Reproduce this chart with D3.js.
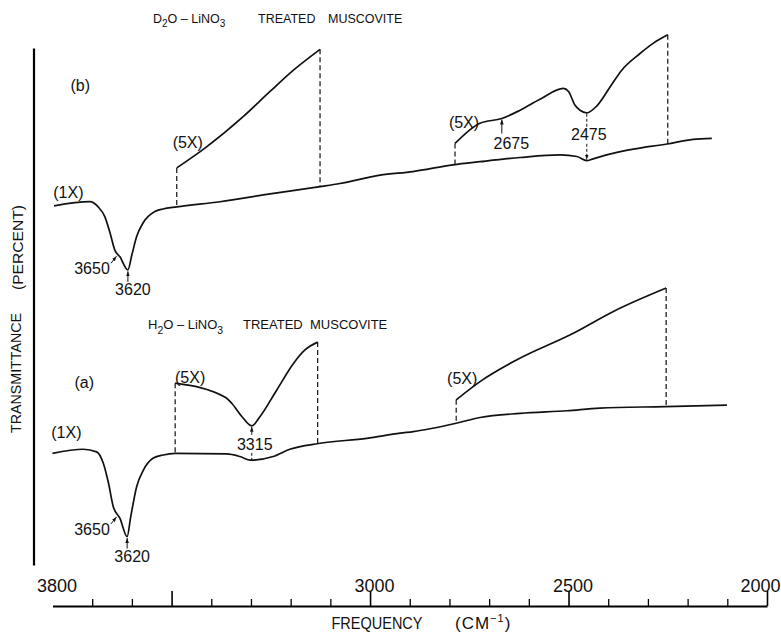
<!DOCTYPE html>
<html><head><meta charset="utf-8">
<script src="https://cdn.jsdelivr.net/npm/d3@7"></script>
<style>
body{margin:0;background:#fff}
svg{display:block}
text{font-family:"Liberation Sans",Arial,sans-serif;fill:#111}
</style>
</head><body>
<svg id="c" width="781" height="634"></svg>
<script>
// ---------------- data ----------------
// frequency (cm^-1), transmittance (arbitrary percent scale)
const traceB1x = [[3796,68.1],[3706,68.9],[3685,67.9],[3668,66.0],[3655,62.9],[3643,59.6],[3630,58.3],[3610,55.8],[3600,58.7],[3588,62.2],[3572,64.8],[3542,67.0],[3522,67.5],[3487,67.9],[3378,68.9],[3252,70.4],[3126,71.8],[3076,72.4],[2975,74.0],[2892,74.7],[2791,76.0],[2723,76.6],[2622,77.4],[2521,77.9],[2479,77.6],[2454,76.8],[2440,77.1],[2404,77.9],[2337,79.0],[2252,80.0],[2186,80.9],[2139,81.1]];
const traceB5xLeft = [[3487,75.4],[3416,79.2],[3319,85.3],[3252,90.1],[3193,94.2],[3126,98.2]];
const traceB5xRight = [[2786,80.1],[2723,84.0],[2668,84.9],[2622,86.5],[2572,88.6],[2513,90.7],[2500,90.1],[2484,87.5],[2471,86.5],[2454,86.0],[2429,87.3],[2395,91.0],[2366,94.2],[2320,97.4],[2286,99.4],[2250,101.0]];
const traceA1x = [[3800,20.5],[3722,21.3],[3689,20.8],[3672,18.6],[3659,14.8],[3647,10.3],[3630,8.0],[3612,4.5],[3603,8.3],[3588,14.1],[3571,17.3],[3546,19.6],[3521,20.2],[3491,20.5],[3361,20.4],[3328,19.9],[3301,19.2],[3244,19.9],[3202,21.3],[3130,22.4],[3008,23.4],[2924,24.4],[2891,24.7],[2783,26.3],[2723,27.4],[2622,28.2],[2504,28.7],[2421,29.2],[2257,29.5],[2101,29.8]];
const traceA5xLeft = [[3491,34.0],[3365,31.3],[3348,30.1],[3323,27.6],[3298,25.8],[3277,27.6],[3235,32.7],[3193,37.8],[3164,40.4],[3132,41.9]];
const traceA5xRight = [[2783,30.8],[2723,34.3],[2630,38.5],[2488,43.6],[2387,47.8],[2254,52.3]];

const tickLabels = [3800, 3000, 2500, 2000];
const majorTicks = [3500, 3000, 2500, 2000];
const minorTicks = [3700, 3600, 3400, 3300, 3200, 3100, 2900, 2800, 2700, 2600, 2400, 2300, 2200, 2100];

// peak annotations: label text, frequency of feature
const peaksB = [{label:"3650", freq:3635}, {label:"3620", freq:3610}];
const peaksA = [{label:"3650", freq:3635}, {label:"3620", freq:3612}];
const peakB5x = [{label:"2675", freq:2668}, {label:"2475", freq:2454}];
const peakA5x = [{label:"3315", freq:3298}];

// ---------------- chart ----------------
const svg = d3.select("#c");
const x = d3.scaleLinear().domain([3800, 2000]).range([52.5, 767]);
const y = d3.scaleLinear().domain([0, 100]).range([560, 40]);

svg.append("defs").append("marker")
  .attr("id","arr").attr("viewBox","0 0 6 6").attr("refX",6).attr("refY",3)
  .attr("markerWidth",5).attr("markerHeight",5).attr("orient","auto-start-reverse")
  .append("path").attr("d","M0,0.8L6,3L0,5.2z").attr("fill","#111");

function valAt(series, f){
  for(let i=0;i<series.length-1;i++){
    const [f0,v0]=series[i],[f1,v1]=series[i+1];
    if(f<=f0 && f>=f1) return v0+(v1-v0)*(f-f0)/(f1-f0);
  }
  return series[series.length-1][1];
}

const line = d3.line().x(d=>x(d[0])).y(d=>y(d[1])).curve(d3.curveMonotoneX);

// dashed connectors for expanded segments
const pairs = [[traceB5xLeft,traceB1x],[traceB5xRight,traceB1x],[traceA5xLeft,traceA1x],[traceA5xRight,traceA1x]];
pairs.forEach(([seg,base])=>{
  [seg[0], seg[seg.length-1]].forEach(p=>{
    svg.append("line")
      .attr("x1",x(p[0])).attr("x2",x(p[0]))
      .attr("y1",y(p[1])).attr("y2",y(valAt(base,p[0])))
      .attr("stroke","#111").attr("stroke-width",1.2).attr("stroke-dasharray","5,3");
  });
});

// traces
[traceB1x,traceB5xLeft,traceB5xRight,traceA1x,traceA5xLeft,traceA5xRight].forEach(s=>{
  svg.append("path").attr("d",line(s)).attr("fill","none")
    .attr("stroke","#111").attr("stroke-width",1.7).attr("stroke-linejoin","round");
});

// axes
const gx = svg.append("g").attr("transform","translate(0,606)");
gx.append("g").call(d3.axisTop(x).tickValues(minorTicks).tickSize(7).tickSizeOuter(0).tickFormat(""))
  .call(g=>g.select(".domain").attr("stroke-width",2.2))
  .call(g=>g.selectAll(".tick line").attr("stroke-width",1.3));
gx.append("g").call(d3.axisTop(x).tickValues(majorTicks).tickSize(15).tickFormat(""))
  .call(g=>g.select(".domain").remove())
  .call(g=>g.selectAll(".tick line").attr("stroke-width",1.6));
gx.append("g").call(d3.axisTop(x).tickValues(tickLabels).tickSize(0).tickPadding(14).tickFormat(d3.format("d")))
  .call(g=>g.select(".domain").remove())
  .call(g=>g.selectAll("text").attr("font-size",18).attr("font-family","Liberation Sans, Arial, sans-serif").attr("fill","#111")
    .attr("dx",(d,i,n)=> i===n.length-1 ? -7 : 4));

const yAxisScale = y.copy().domain([y.invert(565), y.invert(48)]).range([565, 48]);
svg.append("g").attr("transform","translate(33.5,0)")
  .call(d3.axisLeft(yAxisScale).tickValues([]).tickSizeOuter(0))
  .call(g=>g.select(".domain").attr("stroke-width",2.2));

// axis titles
svg.append("text").attr("x",331.5).attr("y",629).attr("font-size",17)
  .attr("textLength",91).attr("lengthAdjust","spacingAndGlyphs").text("FREQUENCY");
const cm = svg.append("text").attr("x",455).attr("y",629).attr("font-size",17).attr("letter-spacing",1);
cm.append("tspan").text("(CM");
cm.append("tspan").attr("font-size",11).attr("dy",-7).text("−1");
cm.append("tspan").attr("dy",7).text(")");

svg.append("text").attr("transform","translate(20.5,373) rotate(-90)").attr("text-anchor","middle")
  .attr("font-size",15).attr("textLength",120).attr("lengthAdjust","spacingAndGlyphs").text("TRANSMITTANCE");
svg.append("text").attr("transform","translate(22.5,247.5) rotate(-90)").attr("text-anchor","middle")
  .attr("font-size",15).attr("textLength",85).attr("lengthAdjust","spacingAndGlyphs").text("(PERCENT)");

// spectrum titles
function formula(xp, yp, fs, first){
  const t = svg.append("text").attr("x",xp).attr("y",yp).attr("font-size",fs);
  t.append("tspan").text(first);
  t.append("tspan").attr("font-size",fs*0.8).attr("dy",fs*0.35).text("2");
  t.append("tspan").attr("dy",-fs*0.35).text("O – LiNO");
  t.append("tspan").attr("font-size",fs*0.8).attr("dy",fs*0.35).text("3");
}
formula(153, 23, 12.5, "D");
svg.append("text").attr("x",258).attr("y",23).attr("font-size",12.5).text("TREATED");
svg.append("text").attr("x",328).attr("y",23).attr("font-size",12.5).text("MUSCOVITE");
formula(148, 329, 13, "H");
svg.append("text").attr("x",243).attr("y",329).attr("font-size",13).text("TREATED");
svg.append("text").attr("x",310).attr("y",329).attr("font-size",13).text("MUSCOVITE");

// panel labels
function lab(txt, xp, yp){ svg.append("text").attr("x",xp).attr("y",yp).attr("font-size",16).attr("text-anchor","middle").text(txt); }
lab("(b)", x(3730), 91);
lab("(a)", x(3720), 388);
lab("(1X)", x(3760), 198);
lab("(1X)", x(3765), 438);
lab("(5X)", x(traceB5xLeft[0][0])+11, 148);
lab("(5X)", x(traceB5xRight[0][0])+9, 128);
lab("(5X)", x(traceA5xLeft[0][0])+15, 383);
lab("(5X)", x(traceA5xRight[0][0])+6, 384);

// peak annotations
function arrowLine(x1,y1,x2,y2,dashed){
  const l = svg.append("line").attr("x1",x1).attr("y1",y1).attr("x2",x2).attr("y2",y2)
    .attr("stroke","#111").attr("stroke-width",1).attr("marker-end","url(#arr)");
  if(dashed) l.attr("stroke-dasharray","3,2");
}
[[peaksB,traceB1x],[peaksA,traceA1x]].forEach(([pk,base])=>{
  const s = pk[0], px = x(s.freq), py = y(valAt(base,s.freq));
  lab(s.label, px-26, py+20);
  arrowLine(px-7, py+9, px-1.5, py+2);
  const m = pk[1], mx = x(m.freq), my = y(valAt(base,m.freq));
  lab(m.label, mx+5, my+25);
  arrowLine(mx, my+12, mx, my+1.5);
});
{
  const p = peakB5x[0], px = x(p.freq), py = y(valAt(traceB5xRight,p.freq));
  lab(p.label, px+9.5, py+30);
  arrowLine(px, py+15, px, py+1);
}
{
  const p = peakB5x[1], px = x(p.freq), py = y(valAt(traceB5xRight,p.freq)), pb = y(valAt(traceB1x,p.freq));
  lab(p.label, px+2, py+27);
  svg.append("line").attr("x1",px).attr("x2",px).attr("y1",py+1).attr("y2",py+14)
    .attr("stroke","#111").attr("stroke-width",1).attr("stroke-dasharray","3,2");
  arrowLine(px, py+31, px, pb-1, true);
}
{
  const p = peakA5x[0], px = x(p.freq), py = y(valAt(traceA5xLeft,p.freq)), pb = y(valAt(traceA1x,p.freq));
  lab(p.label, px+3, py+24);
  arrowLine(px, py+9, px, py+1, true);
  svg.append("line").attr("x1",px).attr("x2",px).attr("y1",py+27).attr("y2",pb)
    .attr("stroke","#111").attr("stroke-width",1).attr("stroke-dasharray","3,2");
}
</script>
</body></html>
